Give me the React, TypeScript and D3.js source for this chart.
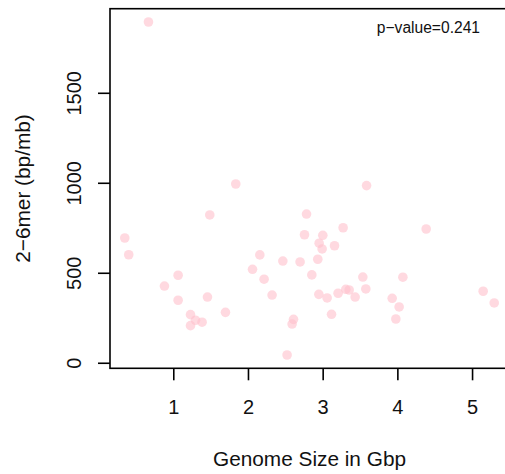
import { FC, useEffect, useRef } from 'react';
import * as d3 from 'd3';

// genome size (Gbp) and 2-6mer density (bp/mb)
const genomeSize = [
  0.661, 1.83, 1.482, 0.344, 0.397, 1.058, 0.875, 1.058, 1.451, 1.224,
  1.291, 1.379, 1.224, 1.692, 2.152, 2.054, 2.46, 2.209, 2.316, 2.603,
  2.584, 2.517, 2.691, 3.581, 2.777, 2.75, 2.995, 3.267, 2.946, 2.986,
  3.152, 4.379, 2.928, 2.848, 3.531, 4.067, 2.942, 3.053, 3.2, 3.303,
  3.348, 3.428, 3.571, 3.112, 3.924, 4.017, 3.973, 5.142, 5.29,
];
const merDensity = [
  1896, 996, 824, 696, 603, 489, 429, 350, 368, 270,
  239, 228, 209, 283, 602, 522, 568, 467, 379, 244,
  218, 46, 563, 987, 829, 714, 711, 753, 667, 635,
  653, 746, 578, 491, 479, 478, 383, 363, 389, 411,
  407, 368, 413, 272, 361, 313, 246, 400, 335,
];
const xTicks = [1, 2, 3, 4, 5];
const yTicks = [0, 500, 1000, 1500];
const pValueLabel = 'p\u2212value=0.241';

const FONT = '"Liberation Sans", Arial, Helvetica, sans-serif';

// R-style axis range: data extent padded by 4% on each side
const padded = (vals: number[]): [number, number] => {
  const [lo, hi] = d3.extent(vals) as [number, number];
  const d = (hi - lo) * 0.04;
  return [lo - d, hi + d];
};

const ScatterPlot: FC = () => {
  const ref = useRef<SVGSVGElement | null>(null);

  useEffect(() => {
    const svg = d3.select(ref.current);
    svg.selectAll('*').remove();

    const left = 110, right = 509, top = 8.7, bottom = 368.3;

    const x = d3.scaleLinear().domain(padded(genomeSize)).range([left, right]);
    const y = d3.scaleLinear().domain(padded(merDensity)).range([bottom, top]);

    const data = genomeSize.map((g, i) => ({ g, m: merDensity[i] }));

    // points
    svg.append('g')
      .selectAll('circle')
      .data(data)
      .enter()
      .append('circle')
      .attr('cx', d => x(d.g))
      .attr('cy', d => y(d.m))
      .attr('r', 4.8)
      .attr('fill', 'pink')
      .attr('fill-opacity', 0.6);

    // box (right side falls outside the page)
    svg.append('rect')
      .attr('x', left)
      .attr('y', top)
      .attr('width', right - left)
      .attr('height', bottom - top)
      .attr('fill', 'none')
      .attr('stroke', '#000')
      .attr('stroke-width', 1.6);

    // x axis ticks + labels
    const xa = svg.append('g');
    xa.selectAll('line')
      .data(xTicks)
      .enter()
      .append('line')
      .attr('x1', d => x(d))
      .attr('x2', d => x(d))
      .attr('y1', bottom)
      .attr('y2', bottom + 12)
      .attr('stroke', '#000')
      .attr('stroke-width', 1.6);
    xa.selectAll('text')
      .data(xTicks)
      .enter()
      .append('text')
      .attr('x', d => x(d))
      .attr('y', 414)
      .attr('text-anchor', 'middle')
      .attr('font-family', FONT)
      .attr('font-size', 20)
      .attr('fill', '#111')
      .text(d => d);

    // y axis ticks + rotated labels
    const ya = svg.append('g');
    ya.selectAll('line')
      .data(yTicks)
      .enter()
      .append('line')
      .attr('x1', left - 12)
      .attr('x2', left)
      .attr('y1', d => y(d))
      .attr('y2', d => y(d))
      .attr('stroke', '#000')
      .attr('stroke-width', 1.6);
    ya.selectAll('text')
      .data(yTicks)
      .enter()
      .append('text')
      .attr('transform', d => `translate(81,${y(d)}) rotate(-90)`)
      .attr('text-anchor', 'middle')
      .attr('font-family', FONT)
      .attr('font-size', 20)
      .attr('fill', '#111')
      .text(d => d);

    // axis titles
    svg.append('text')
      .attr('x', (left + right) / 2)
      .attr('y', 466)
      .attr('text-anchor', 'middle')
      .attr('font-family', FONT)
      .attr('font-size', 20.8)
      .attr('fill', '#111')
      .text('Genome Size in Gbp');

    svg.append('text')
      .attr('transform', `translate(30,${(top + bottom) / 2}) rotate(-90)`)
      .attr('text-anchor', 'middle')
      .attr('font-family', FONT)
      .attr('font-size', 20.8)
      .attr('fill', '#111')
      .text('2\u22126mer (bp/mb)');

    svg.append('text')
      .attr('x', 480)
      .attr('y', 33)
      .attr('text-anchor', 'end')
      .attr('font-family', FONT)
      .attr('font-size', 15.6)
      .attr('fill', '#111')
      .text(pValueLabel);
  }, []);

  return <svg ref={ref} width={505} height={474} style={{ display: 'block' }} />;
};

export default function App() {
  return (
    <div style={{ position: 'absolute', left: 0, top: 0, width: 505, height: 474, overflow: 'hidden', background: '#fff' }}>
      <ScatterPlot />
    </div>
  );
}
